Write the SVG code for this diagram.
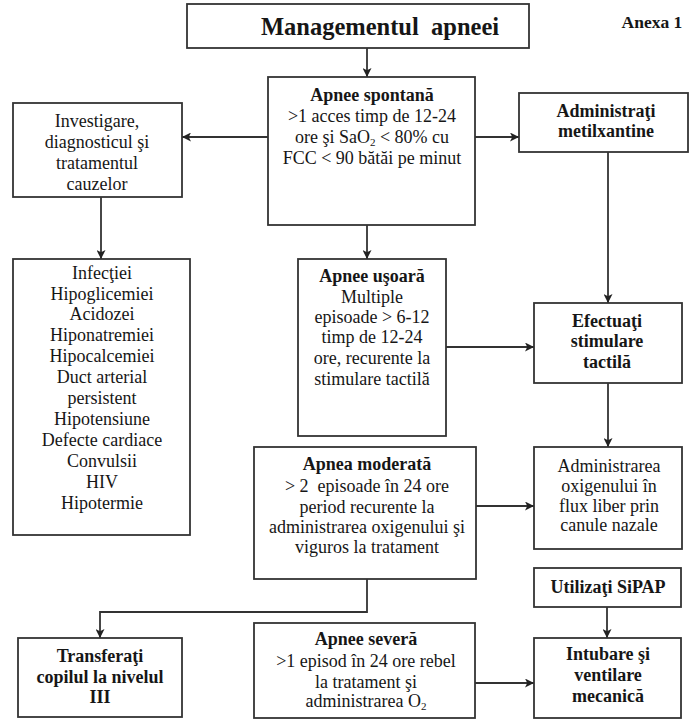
<svg xmlns="http://www.w3.org/2000/svg" width="691" height="723" viewBox="0 0 691 723">
  <style>
    .box { fill: #ffffff; stroke: #333333; stroke-width: 1.8; }
    .wire { fill: none; stroke: #333333; stroke-width: 1.8; }
    text { font-family: "Liberation Serif", "Times New Roman", serif; fill: #161616; text-anchor: middle; }
    .t { font-size: 18px; }
    .b { font-size: 18px; font-weight: bold; }
    .title { font-size: 24.5px; font-weight: bold; white-space: pre; }
    .sub { font-size: 11px; }
  </style>
  <defs>
    <marker id="arrow" viewBox="0 0 10 10" refX="10" refY="5" markerWidth="9" markerHeight="9" markerUnits="userSpaceOnUse" orient="auto">
      <path d="M0,0 L10,5 L0,10 L2.5,5 z" fill="#222222"/>
    </marker>
  </defs>

  <rect width="691" height="723" fill="#ffffff"/>

  <!-- connectors -->
  <g id="connectors" marker-end="url(#arrow)">
    <path class="wire" d="M367,48 V77"/>
    <path class="wire" d="M268,137 H182"/>
    <path class="wire" d="M475,137 H519"/>
    <path class="wire" d="M101,197 V259"/>
    <path class="wire" d="M367,225 V259"/>
    <path class="wire" d="M608,152 V303"/>
    <path class="wire" d="M446,347 H534"/>
    <path class="wire" d="M608,383 V447"/>
    <path class="wire" d="M476,506 H534"/>
    <path class="wire" d="M367,579 V612 H100 V638"/>
    <path class="wire" d="M607,607 V638"/>
    <path class="wire" d="M475,683 H534"/>
  </g>

  <g id="title">
    <rect class="box" x="187" y="4" width="342" height="44"/>
    <text class="title" x="380" y="35" xml:space="preserve">Managementul  apneei</text>
  </g>

  <g id="annex">
    <text class="b" x="652" y="28" style="font-size:17.5px">Anexa 1</text>
  </g>

  <g id="spontaneous">
    <rect class="box" x="268" y="77" width="207" height="148"/>
    <text class="b" x="372" y="101">Apnee spontană</text>
    <text class="t" x="372" y="122">&gt;1 acces timp de 12-24</text>
    <text class="t" x="372" y="143">ore şi SaO<tspan class="sub" dy="3">2</tspan><tspan dy="-3"> &lt; 80% cu</tspan></text>
    <text class="t" x="372" y="164">FCC &lt; 90 bătăi pe minut</text>
  </g>

  <g id="investigate">
    <rect class="box" x="13" y="103" width="169" height="94"/>
    <text class="t" x="97" y="127">Investigare,</text>
    <text class="t" x="97" y="148">diagnosticul şi</text>
    <text class="t" x="97" y="169">tratamentul</text>
    <text class="t" x="97" y="190">cauzelor</text>
  </g>

  <g id="methylxanthine">
    <rect class="box" x="519" y="93" width="169" height="59"/>
    <text class="b" x="606" y="117">Administraţi</text>
    <text class="b" x="606" y="137">metilxantine</text>
  </g>

  <g id="causes">
    <rect class="box" x="13" y="259" width="177" height="276"/>
    <text class="t" x="102" y="279">Infecţiei</text>
    <text class="t" x="102" y="300">Hipoglicemiei</text>
    <text class="t" x="102" y="320">Acidozei</text>
    <text class="t" x="102" y="341">Hiponatremiei</text>
    <text class="t" x="102" y="362">Hipocalcemiei</text>
    <text class="t" x="102" y="383">Duct arterial</text>
    <text class="t" x="102" y="404">persistent</text>
    <text class="t" x="102" y="425">Hipotensiune</text>
    <text class="t" x="102" y="446">Defecte cardiace</text>
    <text class="t" x="102" y="467">Convulsii</text>
    <text class="t" x="102" y="488">HIV</text>
    <text class="t" x="102" y="509">Hipotermie</text>
  </g>

  <g id="mild">
    <rect class="box" x="298" y="259" width="148" height="177"/>
    <text class="b" x="372" y="282">Apnee uşoară</text>
    <text class="t" x="372" y="303">Multiple</text>
    <text class="t" x="372" y="323">episoade &gt; 6-12</text>
    <text class="t" x="372" y="343">timp de 12-24</text>
    <text class="t" x="372" y="364">ore, recurente la</text>
    <text class="t" x="372" y="385">stimulare tactilă</text>
  </g>

  <g id="tactile">
    <rect class="box" x="534" y="303" width="148" height="80"/>
    <text class="b" x="607" y="327">Efectuaţi</text>
    <text class="b" x="607" y="347">stimulare</text>
    <text class="b" x="607" y="368">tactilă</text>
  </g>

  <g id="moderate">
    <rect class="box" x="254" y="447" width="222" height="132"/>
    <text class="b" x="367" y="470">Apnea moderată</text>
    <text class="t" x="367" y="492" xml:space="preserve">&gt; 2  episoade în 24 ore</text>
    <text class="t" x="367" y="513">period recurente la</text>
    <text class="t" x="367" y="533">administrarea oxigenului şi</text>
    <text class="t" x="367" y="553">viguros la tratament</text>
  </g>

  <g id="oxygen">
    <rect class="box" x="534" y="447" width="148" height="102"/>
    <text class="t" x="609" y="472">Administrarea</text>
    <text class="t" x="609" y="492">oxigenului în</text>
    <text class="t" x="609" y="512">flux liber prin</text>
    <text class="t" x="609" y="531">canule nazale</text>
  </g>

  <g id="sipap">
    <rect class="box" x="534" y="568" width="147" height="39"/>
    <text class="b" x="608" y="593">Utilizaţi SiPAP</text>
  </g>

  <g id="transfer">
    <rect class="box" x="18" y="638" width="164" height="79"/>
    <text class="b" x="100" y="662">Transferaţi</text>
    <text class="b" x="100" y="683">copilul la nivelul</text>
    <text class="b" x="100" y="703">III</text>
  </g>

  <g id="severe">
    <rect class="box" x="254" y="623" width="221" height="95"/>
    <text class="b" x="366" y="645">Apnee severă</text>
    <text class="t" x="366" y="667">&gt;1 episod în 24 ore rebel</text>
    <text class="t" x="366" y="688">la tratament şi</text>
    <text class="t" x="366" y="707">administrarea O<tspan class="sub" dy="3">2</tspan></text>
  </g>

  <g id="intubation">
    <rect class="box" x="534" y="638" width="147" height="80"/>
    <text class="b" x="608" y="660">Intubare şi</text>
    <text class="b" x="608" y="681">ventilare</text>
    <text class="b" x="608" y="702">mecanică</text>
  </g>
</svg>
